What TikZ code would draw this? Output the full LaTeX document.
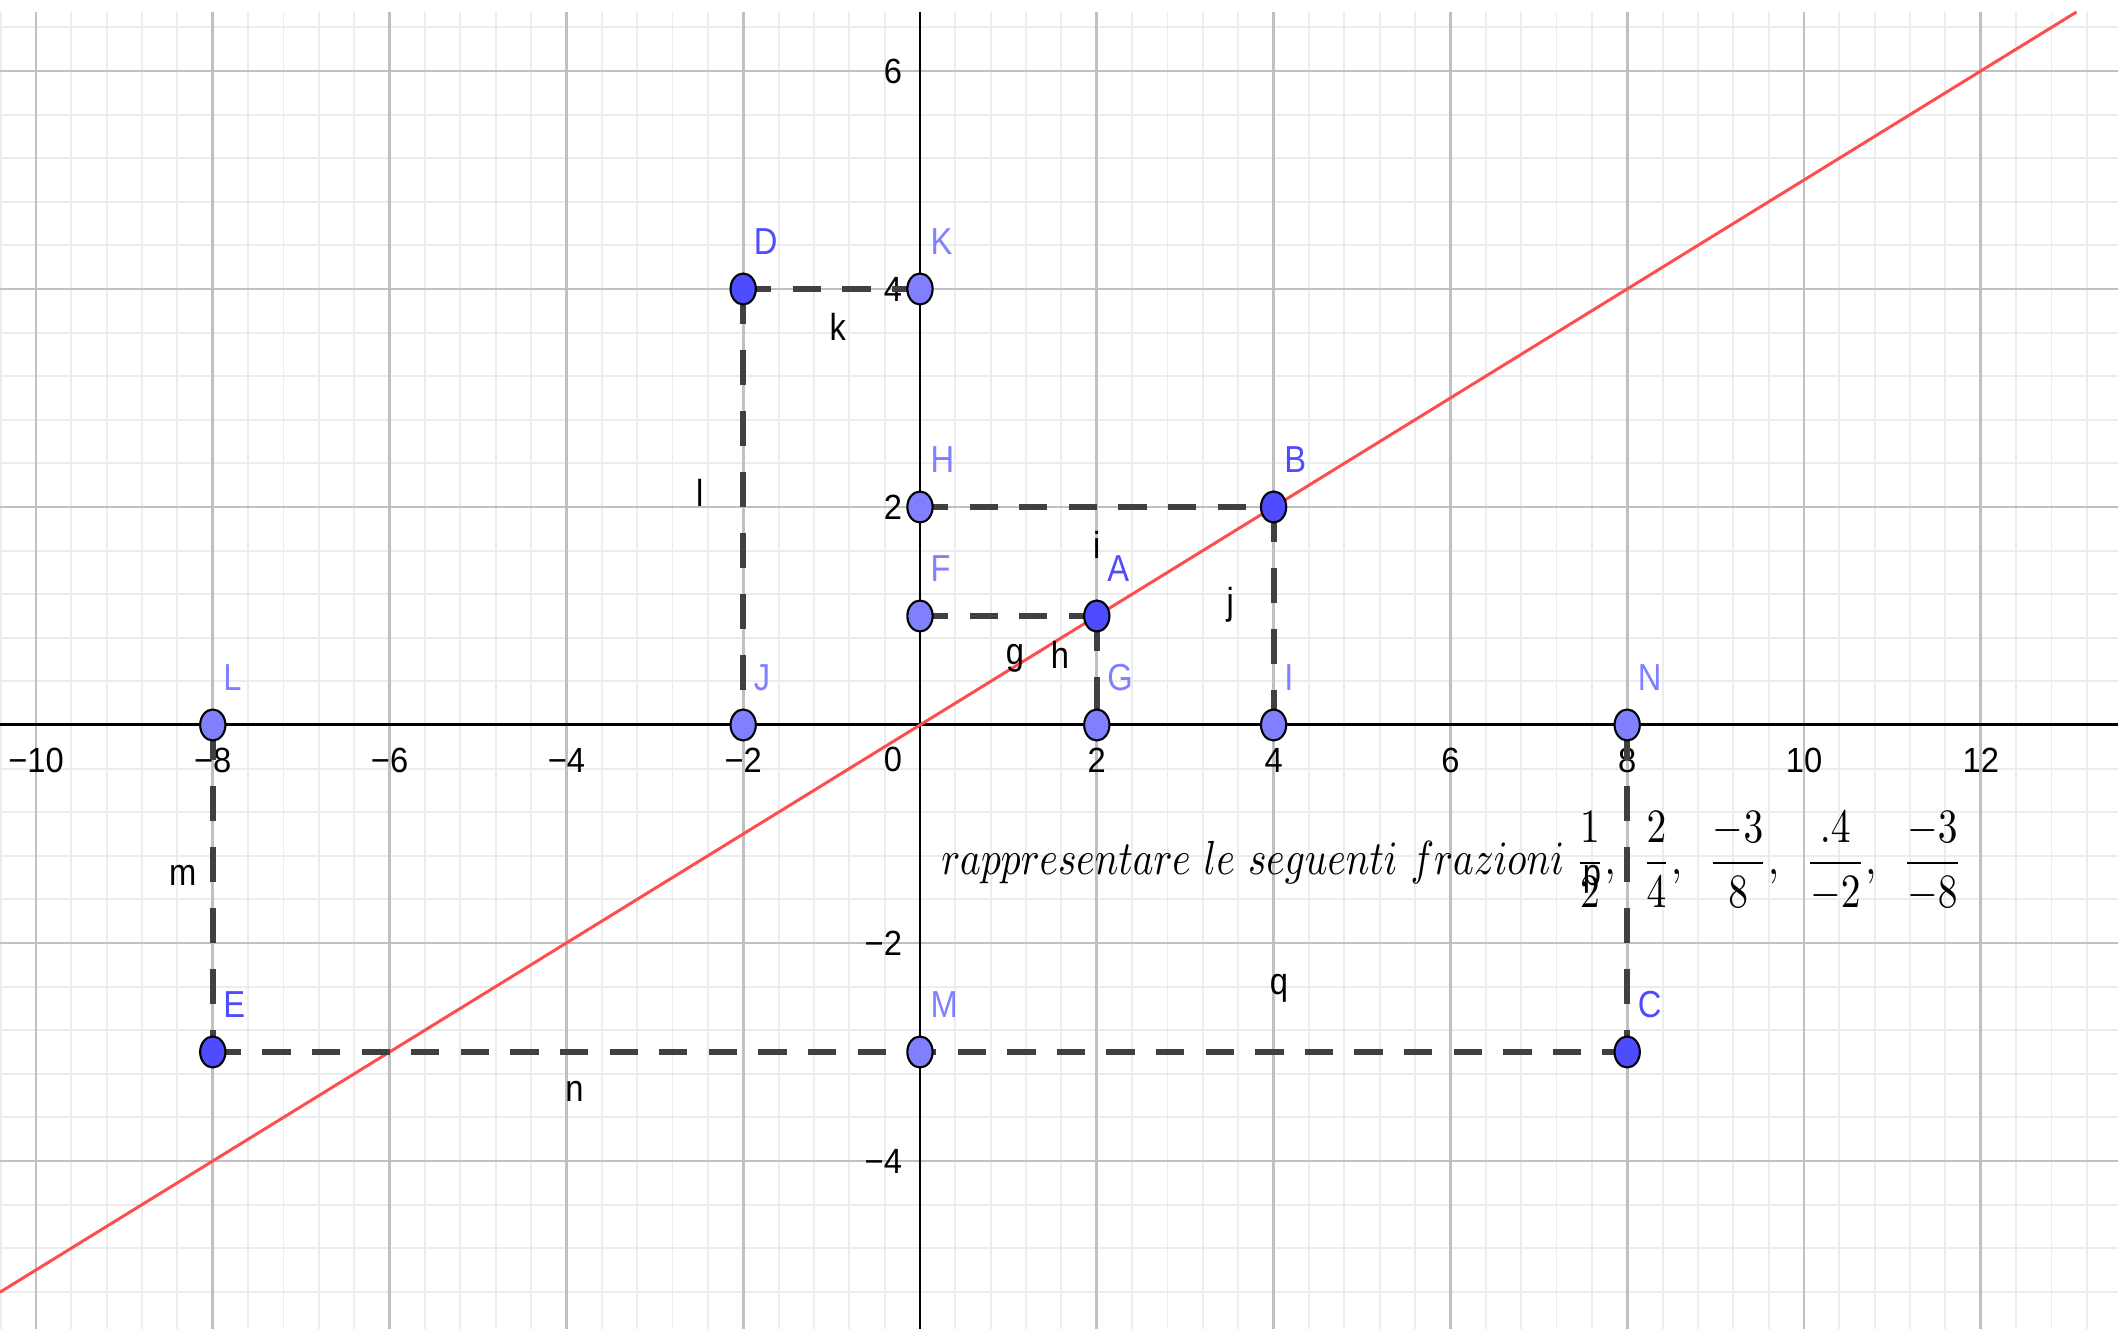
\documentclass[tikz,border=0pt]{standalone}
\usepackage{fontspec}
\usepackage{graphicx}
\setsansfont{Liberation Sans}
\usetikzlibrary{shapes.geometric}
\definecolor{ptdark}{RGB}{77,77,255}
\definecolor{ptlight}{RGB}{128,128,255}
\definecolor{seggray}{RGB}{64,64,64}
\definecolor{redline}{RGB}{255,77,77}
\definecolor{majgrid}{RGB}{192,192,192}
\definecolor{mingrid}{RGB}{236,236,236}
\newcommand{\ystr}[1]{\scalebox{1}[1.15]{#1}}
\newcommand{\axstr}[1]{\scalebox{1}[1.07]{#1}}
\begin{document}
\begin{tikzpicture}[x=0.884cm, y=1.09cm,
  mingr/.style={mingrid, line width=0.55pt},
  majgr/.style={majgrid, line width=0.75pt},
  axisline/.style={black, line width=0.85pt},
  axlab/.style={font=\fontsize{9.3pt}{11pt}\selectfont\sffamily, inner sep=0pt, text=black},
  hseg/.style={seggray, line width=1.9pt, dash pattern=on 0.283cm off 0.213cm},
  vseg/.style={seggray, line width=1.75pt, dash pattern=on 0.348cm off 0.262cm},
  ptbase/.style={ellipse, draw=black, line width=0.6pt, minimum width=0.253cm, minimum height=0.31cm, inner sep=0pt},
  ptd/.style={ptbase, fill=ptdark},
  ptl/.style={ptbase, fill=ptlight},
  plab/.style={font=\fontsize{9.3pt}{11pt}\selectfont\sffamily, inner sep=0pt, anchor=base west},
  plabd/.style={plab, text=ptdark},
  plabl/.style={plab, text=ptlight},
  slab/.style={font=\fontsize{9.3pt}{11pt}\selectfont\sffamily, inner sep=0pt, text=black}
]
\useasboundingbox[fill=white] (-10.4072,-5.5413) rectangle (13.5520,6.6514);
% minor grid
\foreach \i in {-26,...,33} \draw[mingr] (\i*0.4,-5.5413) -- (\i*0.4,6.5413);
\foreach \j in {-13,...,16} \draw[mingr] (-10.4072,\j*0.4) -- (13.5520,\j*0.4);
% major grid
\foreach \i in {-10,-8,...,12} \draw[majgr] (\i,-5.5413) -- (\i,6.5413);
\foreach \j in {-4,-2,...,6} \draw[majgr] (-10.4072,\j) -- (13.5520,\j);
% axes
\draw[axisline] (-10.4072,0) -- (13.5520,0);
\draw[axisline] (0,-5.5413) -- (0,6.5413);
% axis labels
\foreach \v/\t in {-10/−10,-8/−8,-6/−6,-4/−4,-2/−2,2/2,4/4,6/6,8/8,10/10,12/12}
  \node[axlab] (xl\v) at (\v,-0.321) {\axstr{\t}};
\foreach \v/\t in {-4/−4,-2/−2,2/2,4/4,6/6}
  \node[axlab, anchor=east] (yl\v) at ([xshift=-0.173cm]0,\v) {\axstr{\t}};
\node[axlab] (zero) at (-0.307,-0.313) {\axstr{0}};
% red line y = x/2
\draw[redline, line width=0.85pt] (-10.4072,-5.2036) -- (13.0826,6.5413);
% point positions
\coordinate (A) at (2,1);
\coordinate (B) at (4,2);
\coordinate (C) at (8,-3);
\coordinate (D) at (-2,4);
\coordinate (E) at (-8,-3);
\coordinate (F) at (0,1);
\coordinate (G) at (2,0);
\coordinate (H) at (0,2);
\coordinate (I) at (4,0);
\coordinate (J) at (-2,0);
\coordinate (K) at (0,4);
\coordinate (L) at (-8,0);
\coordinate (M) at (0,-3);
\coordinate (N) at (8,0);
% text
\node[anchor=west, inner sep=0pt] (txt) at (0.234,-1.254)
  {\resizebox*{10.21cm}{1.0cm}{$\displaystyle rappresentare\ le\ seguenti\ frazioni\;\frac{1}{2},\ \,\frac{2}{4},\ \,\frac{-3}{8},\ \,\frac{.4}{-2},\ \,\frac{-3}{-8}$}};
% dashed segments
\draw[hseg] (D) -- (K);
\draw[hseg] (H) -- (B);
\draw[hseg] (F) -- (A);
\draw[hseg] (E) -- (M);
\draw[hseg, dash phase=0.1196cm] (M) -- (C);
\draw[vseg] (D) -- (J);
\draw[vseg] (B) -- (I);
\draw[vseg] (A) -- (G);
\draw[vseg] (L) -- (E);
\draw[vseg] (N) -- (C);
% points
\node[ptd] (pA) at (A) {};
\node[ptd] (pB) at (B) {};
\node[ptd] (pC) at (C) {};
\node[ptd] (pD) at (D) {};
\node[ptd] (pE) at (E) {};
\node[ptl] (pF) at (F) {};
\node[ptl] (pG) at (G) {};
\node[ptl] (pH) at (H) {};
\node[ptl] (pI) at (I) {};
\node[ptl] (pJ) at (J) {};
\node[ptl] (pK) at (K) {};
\node[ptl] (pL) at (L) {};
\node[ptl] (pM) at (M) {};
\node[ptl] (pN) at (N) {};
% point labels
\node[plabd] (lA) at ([shift={(0.10cm,0.344cm)}]A) {\ystr{A}};
\node[plabd] (lB) at ([shift={(0.10cm,0.344cm)}]B) {\ystr{B}};
\node[plabd] (lC) at ([shift={(0.10cm,0.344cm)}]C) {\ystr{C}};
\node[plabd] (lD) at ([shift={(0.10cm,0.344cm)}]D) {\ystr{D}};
\node[plabd] (lE) at ([shift={(0.10cm,0.344cm)}]E) {\ystr{E}};
\node[plabl] (lF) at ([shift={(0.10cm,0.344cm)}]F) {\ystr{F}};
\node[plabl] (lG) at ([shift={(0.10cm,0.344cm)}]G) {\ystr{G}};
\node[plabl] (lH) at ([shift={(0.10cm,0.344cm)}]H) {\ystr{H}};
\node[plabl] (lI) at ([shift={(0.10cm,0.344cm)}]I) {\ystr{I}};
\node[plabl] (lJ) at ([shift={(0.10cm,0.344cm)}]J) {\ystr{J}};
\node[plabl] (lK) at ([shift={(0.10cm,0.344cm)}]K) {\ystr{K}};
\node[plabl] (lL) at ([shift={(0.10cm,0.344cm)}]L) {\ystr{L}};
\node[plabl] (lM) at ([shift={(0.10cm,0.344cm)}]M) {\ystr{M}};
\node[plabl] (lN) at ([shift={(0.10cm,0.344cm)}]N) {\ystr{N}};
% segment labels
\node[slab] (sg) at (1.075,0.615) {\ystr{g}};
\node[slab] (sh) at (1.584,0.642) {\ystr{h}};
\node[slab] (si) at (2.0,1.65) {\ystr{i}};
\node[slab] (sj) at (3.51,1.10) {\ystr{j}};
\node[slab] (sk) at (-0.93,3.65) {\ystr{k}};
\node[slab] (sl) at (-2.49,2.13) {\ystr{l}};
\node[slab] (sm) at (-8.34,-1.38) {\ystr{m}};
\node[slab] (sn) at (-3.91,-3.36) {\ystr{n}};
\node[slab] (sp) at (7.60,-1.42) {\ystr{p}};
\node[slab] (sq) at (4.06,-2.42) {\ystr{q}};
\end{tikzpicture}
\end{document}
